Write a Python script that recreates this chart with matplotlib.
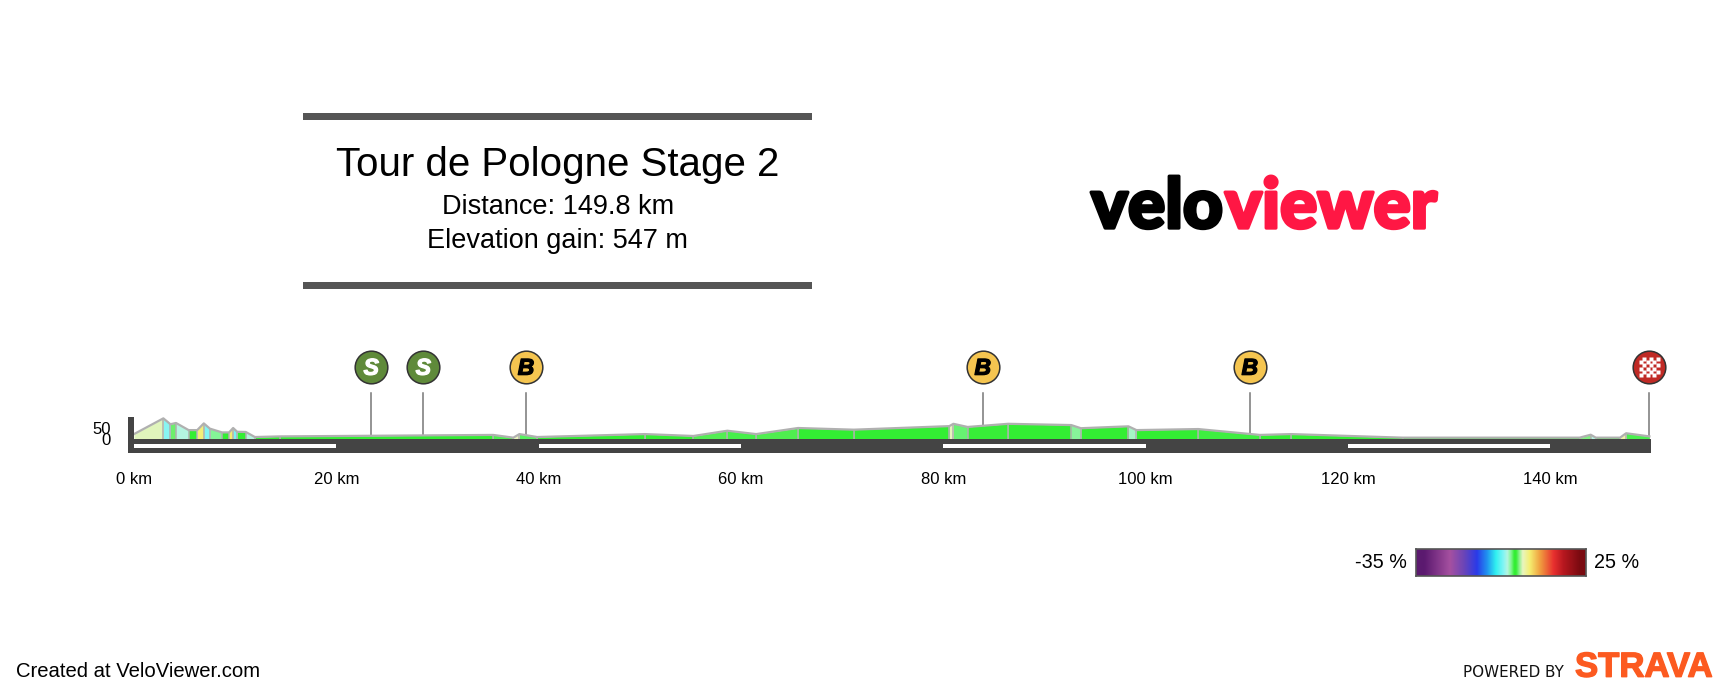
import numpy as np
import matplotlib
matplotlib.use('Agg')
import matplotlib.pyplot as plt
import matplotlib.patheffects as pe
from matplotlib.colors import LinearSegmentedColormap, Normalize
from matplotlib.patches import Rectangle
from matplotlib.transforms import offset_copy

plt.rcParams['font.family'] = ['Liberation Sans', 'DejaVu Sans']

# profile
dist_km = [0, 2.9, 3.6, 4.15, 5.4, 6.25, 6.9, 7.5, 8.7, 9.4, 9.8, 10.2, 11.05, 11.95, 14.4,
           35.5, 37.5, 38.1, 39.85, 50.5, 55.3, 58.65, 61.5, 65.65, 71.15, 80.6, 81, 82.4,
           86.4, 92.65, 93.6, 98.3, 99.1, 105.2, 111.3, 114.4, 125.4, 142.9, 144, 144.5,
           146.9, 147.5, 149.8]
elev_m = [22, 97, 69, 75, 41, 41, 73, 48, 30, 30, 51, 33, 32, 8, 11,
          18, 5, 22, 8, 22, 13, 38, 22, 51, 43, 60, 71, 56,
          71, 65, 50, 59, 41, 46, 18, 22, 5, 5, 19, 5,
          5, 26, 11]

sprint_km = [23.45, 28.6]
bonus_km = [38.75, 83.9, 110.3]
finish_km = 149.8

xtick_km = [0, 20, 40, 60, 80, 100, 120, 140]
ytick_m = [0, 50]
dash_starts = [0, 40, 80, 120]

grad_stops = [-35, -32, -23, -18, -13.5, -10, -6.8, -4.2, -2.7, -1.4, -0.3, 0.3, 0.8, 1.5, 2.7, 5.2, 8.8, 13.6, 17, 22.9, 25]
grad_colors = ['#5b1a6e', '#5c1a70', '#a550a0', '#6a45b8', '#2a3ae8', '#2090f0', '#30f0f0', '#80f5f5',
               '#b5f5e0', '#80f590', '#33ee33', '#33ee33', '#55ee55', '#90f090', '#e8f5c0', '#f5ee70',
               '#f0a040', '#e8302f', '#b81820', '#7a0a10', '#7a0a10']

W, H = 1728, 690
fig = plt.figure(figsize=(W / 100, H / 100), dpi=100, facecolor='white')


def fx(x):
    return x / W


def fy(y):
    return 1 - y / H


norm = Normalize(-35, 25)
cmap = LinearSegmentedColormap.from_list('grad', [(norm(v), c) for v, c in zip(grad_stops, grad_colors)], N=1024)

# main profile axes, km across and metres up
left, right, base, top = 134, 1651.4, 438.7, 417.3
ax = fig.add_axes([fx(left), fy(base), (right - left) / W, (base - top) / H])
ax.set_xlim(0, 150)
ax.set_ylim(0, 102)
for s in ax.spines.values():
    s.set_visible(False)
ax.patch.set_alpha(0)

for i in range(len(dist_km) - 1):
    x0, x1 = dist_km[i], dist_km[i + 1]
    y0, y1 = elev_m[i], elev_m[i + 1]
    grade = (y1 - y0) / ((x1 - x0) * 10)
    ax.fill_between([x0, x1], [y0, y1], 0, color=cmap(norm(grade)), lw=0, zorder=2)

ax.vlines(dist_km[1:-1], 0, elev_m[1:-1], color='#b0b0b0', lw=1.1, zorder=3)
ax.plot(dist_km, elev_m, color='#b0b0b0', lw=1.6, zorder=4, clip_on=False)

# base bar with the white 20 km dashes
ax.add_patch(Rectangle((-0.6, -70), 150.6, 70, fc='#444444', ec='none', clip_on=False, zorder=5))
ax.add_patch(Rectangle((-0.55, 0), 0.55, 102, fc='#444444', ec='none', clip_on=False, zorder=5))
for d in dash_starts:
    ax.add_patch(Rectangle((d, -46), 20, 19, fc='white', ec='none', clip_on=False, zorder=6))

ax.set_xticks(xtick_km)
ax.set_xticklabels(['%d km' % k for k in xtick_km], fontsize=12, color='black')
ax.set_yticks(ytick_m)
ax.set_yticklabels([str(v) for v in ytick_m], fontsize=12, color='black')
ax.tick_params(axis='x', length=0, pad=24)
ax.tick_params(axis='y', length=0, pad=16.5)

# climb / sprint markers on stems
stem_top = 219
marker_y = 341
marker_size = 23.5


def add_marker(km, fill, label, label_color):
    ax.plot([km, km], [np.interp(km, dist_km, elev_m), stem_top], color='#777777', lw=1.1,
            clip_on=False, zorder=1)
    ax.plot([km], [marker_y], 'o', ms=marker_size, mfc=fill, mec='#333333', mew=1.1, clip_on=False, zorder=7)
    if label:
        ax.text(km, marker_y - 5, label, ha='center', va='center', fontsize=16.5, fontweight='bold',
                fontstyle='italic', color=label_color, zorder=8,
                path_effects=[pe.withStroke(linewidth=0.9, foreground=label_color)])


for k in sprint_km:
    add_marker(k, '#5f8a3a', 'S', 'white')
for k in bonus_km:
    add_marker(k, '#f5c550', 'B', 'black')
add_marker(finish_km, '#c02a25', '', 'white')

# finish flag squares
cell = 2.4
for i in range(6):
    for j in range(6):
        if (i + j) % 2 == 0:
            tr = offset_copy(ax.transData, fig=fig, x=(i - 2.5) * cell, y=(j - 2.5) * cell, units='points')
            ax.plot([finish_km], [marker_y], 's', ms=2.5, mfc='white', mec='none', transform=tr,
                    clip_on=False, zorder=8)

# title block
for y0 in [112.7, 282.3]:
    fig.add_artist(Rectangle((fx(303), fy(y0 + 7)), 509 / W, 7 / H, fc='#555555', ec='none',
                             transform=fig.transFigure))
fig.text(fx(557.6), fy(176), 'Tour de Pologne Stage 2', fontsize=29, ha='center', va='baseline')
fig.text(fx(557.6), fy(214.3), 'Distance: 149.8 km', fontsize=19.5, ha='center', va='baseline')
fig.text(fx(557.6), fy(248.3), 'Elevation gain: 547 m', fontsize=19.5, ha='center', va='baseline')

# logo
fig.text(fx(1091), fy(228), 'velo', fontsize=50, family='Lato', fontweight='black', color='black',
         ha='left', va='baseline', path_effects=[pe.withStroke(linewidth=2.4, foreground='black')])
fig.text(fx(1225), fy(228), 'viewer', fontsize=50, family='Lato', fontweight='black', color='#ff1744',
         ha='left', va='baseline', path_effects=[pe.withStroke(linewidth=2.4, foreground='#ff1744')])

# gradient legend
cax = fig.add_axes([fx(1416), fy(575.7), 170 / W, 26.4 / H])
cax.imshow(np.linspace(-35, 25, 600)[None, :], aspect='auto', cmap=cmap, norm=norm)
cax.set_xticks([])
cax.set_yticks([])
for s in cax.spines.values():
    s.set_color('#555555')
    s.set_linewidth(1.2)
fig.text(fx(1406.7), fy(563), '-35 %', fontsize=14.2, ha='right', va='center')
fig.text(fx(1594.3), fy(563), '25 %', fontsize=14.2, ha='left', va='center')

# footer
fig.text(fx(15.7), fy(676.7), 'Created at VeloViewer.com', fontsize=14.6, ha='left', va='baseline')
fig.text(fx(1462.7), fy(676.7), 'POWERED BY', fontsize=10.9, family='DejaVu Sans', color='#111111',
         ha='left', va='baseline')
fig.text(fx(1575), fy(676.7), 'STRAVA', fontsize=25, fontweight='bold', color='#fc5a20', ha='left',
         va='baseline', path_effects=[pe.withStroke(linewidth=1.0, foreground='#fc5a20')])

fig.savefig('out.png', dpi=100, facecolor='white')
